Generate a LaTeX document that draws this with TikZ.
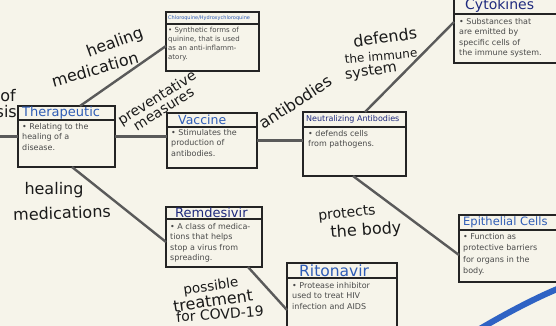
\documentclass[tikz,border=0pt]{standalone}
\usepackage{fontspec}
\setmainfont{DejaVu Sans}
\usetikzlibrary{fit, calc}
\definecolor{paper}{HTML}{F6F4EA}
\definecolor{boxline}{HTML}{242424}
\definecolor{linkgray}{HTML}{5A5A5A}
\definecolor{titleblue}{HTML}{2E5CB6}
\definecolor{titlenavy}{HTML}{1F2A7E}
\definecolor{bodygray}{HTML}{4A4A4A}
\definecolor{ink}{HTML}{1A1A1A}
\definecolor{arcblue}{HTML}{2F63C4}

\begin{document}
\begin{tikzpicture}[x=1pt, y=-1pt,
	cbox/.style={draw=boxline, fill=paper, line width=1.2pt, inner sep=0pt, outer sep=0pt},
	sepline/.style={draw=boxline, line width=1.1pt},
	ctitle/.style={anchor=west, inner sep=0pt, text=titleblue, font=\fontsize{12}{12}\selectfont},
	cbody/.style={anchor=north west, align=left, inner sep=0pt, text=bodygray, font=\fontsize{8}{10.5}\selectfont},
	lbl/.style={text=ink, inner sep=0pt, align=center, font=\fontsize{16}{14}\selectfont},
	link/.style={draw=linkgray, line width=2.4pt}]
	\path[use as bounding box, fill=paper] (0,0) rectangle (556,326);
	\clip (0,0) rectangle (556,326);
	
	% concept boxes
	\node[cbox, fit={(18,106) (115,167)}] (therap) {};
	\draw[sepline] (therap.west |- 0,120) -- (therap.east |- 0,120);
	\node[ctitle, font=\fontsize{13}{13}\selectfont] (therapT) at ($(therap.north west)+(4,7)$) {Therapeutic};
	\node[cbody] (therapB) at ($(therap.north west)+(4,17)$) {• Relating to the\\healing of a\\disease.};
	
	\node[cbox, fit={(166,12) (259,71)}] (chloro) {};
	\draw[sepline] (chloro.west |- 0,24) -- (chloro.east |- 0,24);
	\node[ctitle, font=\fontsize{5}{5}\selectfont] (chloroT) at ($(chloro.north west)+(2,6)$) {Chloroquine/Hydroxychloroquine};
	\node[cbody, font=\fontsize{7}{9}\selectfont] (chloroB) at ($(chloro.north west)+(2,15)$) {• Synthetic forms of\\quinine, that is used\\as an anti-inflamm-\\atory.};
	
	\node[cbox, fit={(167,113) (257,168)}] (vaccine) {};
	\draw[sepline] (vaccine.west |- 0,127) -- (vaccine.east |- 0,127);
	\node[ctitle, font=\fontsize{12.5}{12.5}\selectfont] (vaccineT) at ($(vaccine.north west)+(11,7)$) {Vaccine};
	\node[cbody] (vaccineB) at ($(vaccine.north west)+(4,16)$) {• Stimulates the\\production of\\antibodies.};
	
	\node[cbox, fit={(303,112) (406,176)}] (neutral) {};
	\draw[sepline] (neutral.west |- 0,127) -- (neutral.east |- 0,127);
	\node[ctitle, text=titlenavy, font=\fontsize{8}{8}\selectfont] (neutralT) at ($(neutral.north west)+(3,7.5)$) {Neutralizing Antibodies};
	\node[cbody] (neutralB) at ($(neutral.north west)+(5,18)$) {• defends cells\\from pathogens.};
	
	\node[cbox, fit={(454,-2) (562,63)}] (cyto) {};
	\draw[sepline] (cyto.west |- 0,14) -- (cyto.east |- 0,14);
	\node[ctitle, text=titlenavy, font=\fontsize{14}{14}\selectfont] (cytoT) at ($(cyto.north west)+(11,8)$) {Cytokines};
	\node[cbody] (cytoB) at ($(cyto.north west)+(5,20)$) {• Substances that\\are emitted by\\specific cells of\\the immune system.};
	
	\node[cbox, fit={(166,207) (262,267)}] (remdes) {};
	\draw[sepline] (remdes.west |- 0,219) -- (remdes.east |- 0,219);
	\node[ctitle, text=titlenavy, font=\fontsize{13}{13}\selectfont] (remdesT) at ($(remdes.north west)+(9,6)$) {Remdesivir};
	\node[cbody] (remdesB) at ($(remdes.north west)+(4,16)$) {• A class of medica-\\tions that helps\\stop a virus from\\spreading.};
	
	\node[cbox, fit={(287,263) (397,340)}] (riton) {};
	\draw[sepline] (riton.west |- 0,278) -- (riton.east |- 0,278);
	\node[ctitle, font=\fontsize{15.5}{15.5}\selectfont] (ritonT) at ($(riton.north west)+(12,7.5)$) {Ritonavir};
	\node[cbody] (ritonB) at ($(riton.north west)+(5,19)$) {• Protease inhibitor\\used to treat HIV\\infection and AIDS};
	
	\node[cbox, fit={(459,215) (562,282)}] (epith) {};
	\draw[sepline] (epith.west |- 0,230) -- (epith.east |- 0,230);
	\node[ctitle, font=\fontsize{11.5}{11.5}\selectfont] (epithT) at ($(epith.north west)+(4,7.5)$) {Epithelial Cells};
	\node[cbody, font=\fontsize{8}{11.5}\selectfont] (epithB) at ($(epith.north west)+(4,18)$) {• Function as\\protective barriers\\for organs in the\\body.};
	
	% links
	\coordinate (lft) at (0,136.5);
	\draw[link] (lft) -- (therap.west);
	\draw[link] ([xshift=13.5pt]therap.north) -- ([yshift=-4.5pt]chloro.west);
	\draw[link] (therap.east) -- (therap.east -| vaccine.west);
	\draw[link] (vaccine.east) -- (vaccine.east -| neutral.west);
	\draw[link] ([xshift=10.5pt]neutral.north) -- ([yshift=8.5pt]cyto.west);
	\draw[link] ([xshift=5.5pt]therap.south) -- ([yshift=-5pt]remdes.west);
	\draw[link] ([xshift=34pt]remdes.south) -- ([yshift=-8.5pt]riton.west);
	\draw[link] ([xshift=-1.5pt]neutral.south) -- ([yshift=-6.5pt]epith.west);
	
	% blue arc of the big circle
	\draw[arcblue, line width=6pt, line cap=round] (478,330) .. controls (505,314) and (535,298) .. (562,287);
	
	% link labels
	\node[lbl, anchor=east] (ofL) at (16,96) {of};
	\node[lbl, anchor=east] (sisL) at (17,112) {sis};
	\node[lbl, rotate=20] (healA) at (115,43) {healing};
	\node[lbl, rotate=16] (mediA) at (95,69) {medication};
	\node[lbl, rotate=32, font=\fontsize{14}{13}\selectfont] (prevL) at (160,103) {preventative\\measures};
	\node[lbl, rotate=33] (antiL) at (295,102) {antibodies};
	\node[lbl, rotate=8] (defL) at (385,37) {defends};
	\node[lbl, rotate=5, font=\fontsize{12}{12}\selectfont] (immL) at (381,56) {the immune};
	\node[lbl, rotate=8, font=\fontsize{14.5}{14}\selectfont] (sysL) at (371,72) {system};
	\node[lbl] (healB) at (54,190) {healing};
	\node[lbl, rotate=2] (mediB) at (62,213) {medications};
	\node[lbl, rotate=6, font=\fontsize{14}{14}\selectfont] (protL) at (347,214) {protects};
	\node[lbl, rotate=4] (bodyL) at (366,231) {the body};
	\node[lbl, rotate=8, font=\fontsize{13.5}{13}\selectfont] (possL) at (211,287) {possible};
	\node[lbl, rotate=8] (treatL) at (213,301) {treatment};
	\node[lbl, rotate=4, font=\fontsize{14}{14}\selectfont] (covL) at (220,314) {for COVD-19};
\end{tikzpicture}
\end{document}
